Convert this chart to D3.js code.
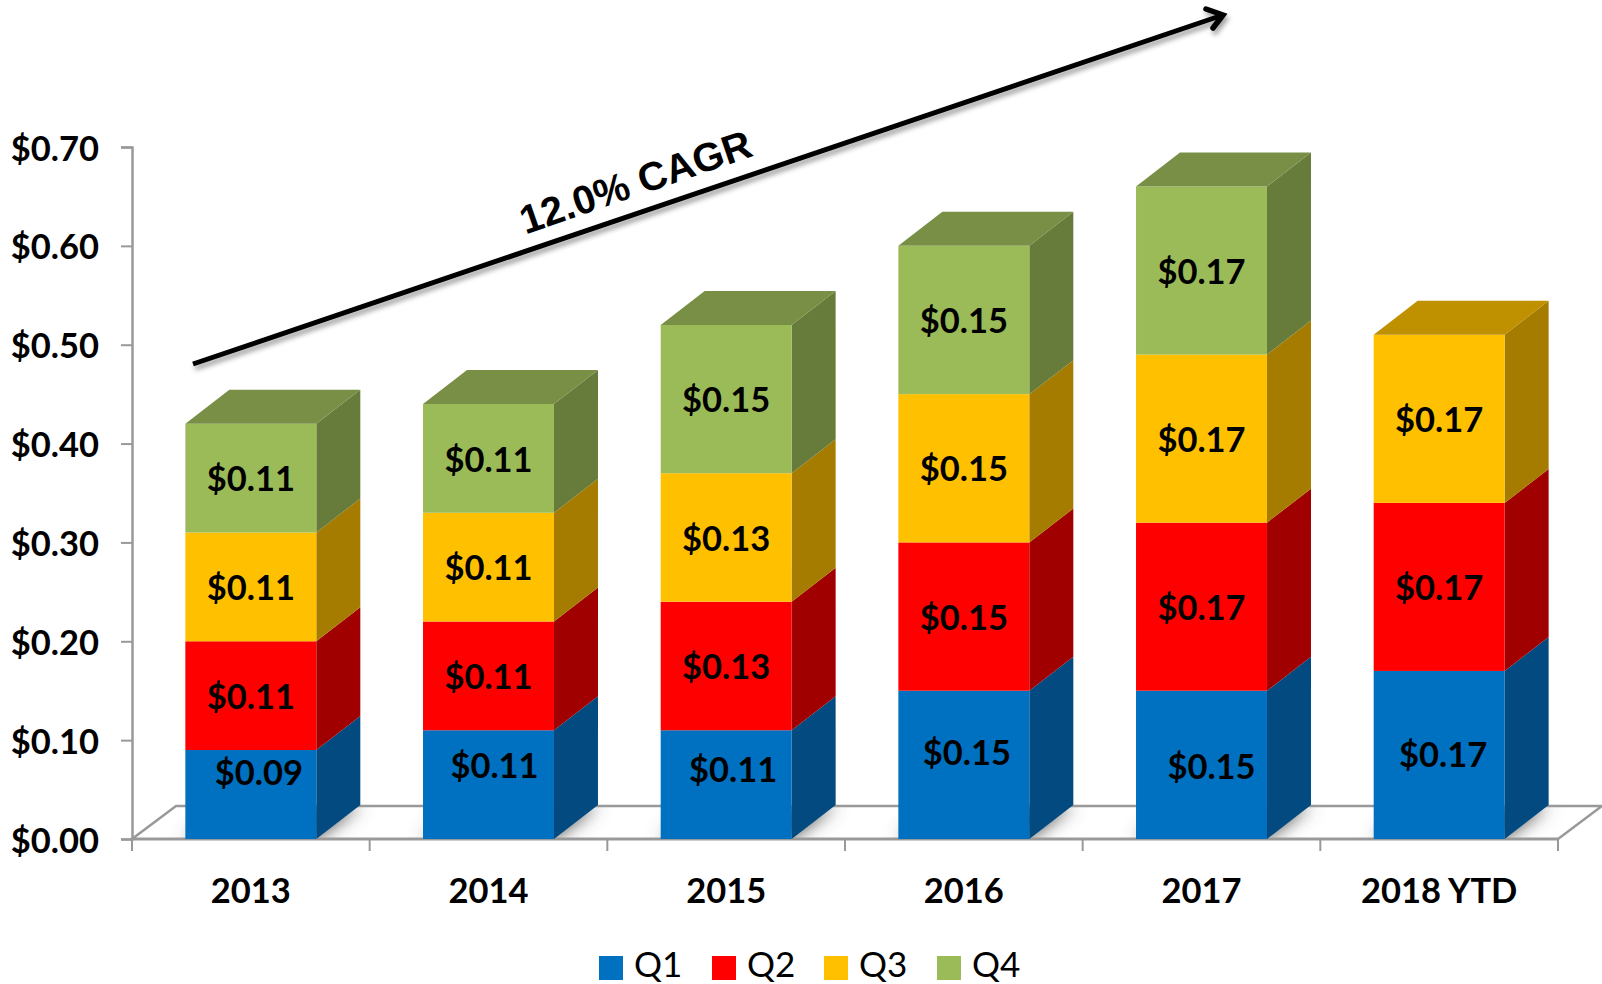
<!DOCTYPE html>
<html>
<head>
<meta charset="utf-8">
<script src="https://cdn.jsdelivr.net/npm/d3@7/dist/d3.min.js"></script>
<style>
html,body{margin:0;padding:0;background:#fff;overflow:hidden}
svg{display:block}
text{fill:#000}
</style>
</head>
<body>
<svg id="c" width="1602" height="984"></svg>
<script>
const categories = ["2013","2014","2015","2016","2017","2018 YTD"];
const seriesNames = ["Q1","Q2","Q3","Q4"];
const q1 = [0.09,0.11,0.11,0.15,0.15,0.17];
const q2 = [0.11,0.11,0.13,0.15,0.17,0.17];
const q3 = [0.11,0.11,0.13,0.15,0.17,0.17];
const q4 = [0.11,0.11,0.15,0.15,0.17,null];
const yTicks = [0,0.1,0.2,0.3,0.4,0.5,0.6,0.7];
const cagrLabel = "12.0% CAGR";

const colors = {Q1:"#0070C0",Q2:"#FF0000",Q3:"#FFC000",Q4:"#9BBB59"};
const sideColors = {Q1:"#024A7F",Q2:"#A00000",Q3:"#A67C00",Q4:"#677C3A"};
const topColors = {Q1:"#02558F",Q2:"#BF0000",Q3:"#BF9000",Q4:"#788F45"};
// Manual nudges of the Q1 data labels, as placed in the original
const q1LabelDx = [8,6,7,3,10,4];
const q1LabelDy = [-23,-20,-16,-13,1,-1];

const depthX = 44, depthY = -34;
const axisGray = "#999999";
const labelFont = "Lato, 'Open Sans', sans-serif";
const labelSize = 34.5;

const svg = d3.select("#c");
const defs = svg.append("defs");
const x = d3.scaleBand().domain(categories).range([132,1558]).paddingInner(0.449).paddingOuter(0.2245);
const y = d3.scaleLinear().domain([0,0.7]).range([839,147]);

const rows = categories.map((c,i)=>({cat:c,Q1:q1[i],Q2:q2[i],Q3:q3[i],Q4:q4[i]||0}));
const stacked = d3.stack().keys(seriesNames)(rows);

const poly = pts => d3.line()(pts)+"Z";

// blur + arrow shadow
defs.append("filter").attr("id","blur").attr("x","-40%").attr("y","-100%").attr("width","180%").attr("height","300%")
  .append("feGaussianBlur").attr("stdDeviation",9);
const ds = defs.append("filter").attr("id","arrowShadow").attr("x","-5%").attr("y","-10%").attr("width","110%").attr("height","125%");
ds.append("feDropShadow").attr("dx",2).attr("dy",4).attr("stdDeviation",2.5).attr("flood-color","#000").attr("flood-opacity",0.38);

// floor
const y0 = y(0), x0 = x.range()[0], x1 = x.range()[1];
const floorPts = [[x0,y0],[x1,y0],[x1+depthX,y0+depthY+1],[x0+depthX,y0+depthY+1]];
defs.append("clipPath").attr("id","floorClip").append("path").attr("d",poly(floorPts));
const floor = svg.append("g");
floor.append("path").attr("d",poly(floorPts)).attr("fill","#fff");
floor.append("g").attr("clip-path","url(#floorClip)").selectAll("path").data(categories).join("path")
  .attr("d",c=>{const l=x(c),r=l+x.bandwidth();return poly([[l,y0],[r,y0],[r+depthX,y0+depthY],[l+depthX,y0+depthY]]);})
  .attr("fill","#555").attr("filter","url(#blur)");
floor.append("path").attr("d",d3.line()([[x0,y0],[x0+depthX,y0+depthY+1],[x1+depthX,y0+depthY+1],[x1,y0]]))
  .attr("fill","none").attr("stroke",axisGray).attr("stroke-width",2.5);

// y axis
const yAxis = svg.append("g").attr("transform",`translate(${x0},0)`)
  .call(d3.axisLeft(y).tickValues(yTicks).tickSize(11).tickPadding(22).tickFormat(d3.format("$.2f")));
yAxis.select(".domain").attr("stroke",axisGray).attr("stroke-width",2.5);
yAxis.selectAll(".tick line").attr("stroke",axisGray).attr("stroke-width",2);
yAxis.selectAll(".tick text").attr("font-family",labelFont).attr("font-weight",700).attr("font-size",labelSize).attr("fill","#000").attr("dy","0.38em");

// x axis
const bounds = d3.range(categories.length+1).map(i=>x0+(x1-x0)*i/categories.length);
const xAxis = svg.append("g");
xAxis.append("line").attr("x1",x0).attr("x2",x1).attr("y1",y0).attr("y2",y0).attr("stroke",axisGray).attr("stroke-width",3);
xAxis.selectAll("line.t").data(bounds).join("line").attr("class","t")
  .attr("x1",d=>d).attr("x2",d=>d).attr("y1",y0).attr("y2",y0+12).attr("stroke",axisGray).attr("stroke-width",2);
xAxis.selectAll("text").data(categories).join("text")
  .attr("x",c=>x(c)+x.bandwidth()/2).attr("y",903).attr("text-anchor","middle")
  .attr("font-family",labelFont).attr("font-weight",700).attr("font-size",labelSize).text(c=>c);

// bars
const bars = svg.append("g");
stacked.forEach(s=>{
  const key = s.key;
  const g = bars.append("g").attr("class","series-"+key);
  const seg = s.map((d,i)=>({l:x(categories[i]),r:x(categories[i])+x.bandwidth(),t:y(d[1]),b:y(d[0]),v:d[1]-d[0]})).filter(d=>d.v>0);
  g.selectAll("path.side").data(seg).join("path").attr("class","side")
    .attr("d",d=>poly([[d.r,d.b],[d.r+depthX,d.b+depthY],[d.r+depthX,d.t+depthY],[d.r,d.t]]))
    .attr("fill",sideColors[key]);
  g.selectAll("rect").data(seg).join("rect")
    .attr("x",d=>d.l).attr("y",d=>d.t).attr("width",d=>d.r-d.l).attr("height",d=>d.b-d.t)
    .attr("fill",colors[key]);
});
// top faces: one per column, coloured by the highest series present
categories.forEach((c,i)=>{
  const top = [...stacked].reverse().find(s=>s[i][1]-s[i][0]>0);
  const l=x(c), r=l+x.bandwidth(), t=y(top[i][1]);
  bars.append("path").attr("d",poly([[l,t],[r,t],[r+depthX,t+depthY],[l+depthX,t+depthY]])).attr("fill",topColors[top.key]);
});

// data labels
const fmt = d3.format("$.2f");
const labels = svg.append("g");
stacked.forEach(s=>{
  s.forEach((d,i)=>{
    const v = d[1]-d[0];
    if(!(v>0)) return;
    const q = s.key==="Q1";
    labels.append("text")
      .attr("x",x(categories[i])+x.bandwidth()/2+(q?q1LabelDx[i]:0))
      .attr("y",(y(d[0])+y(d[1]))/2+(q?q1LabelDy[i]:0))
      .attr("dy","0.38em").attr("text-anchor","middle")
      .attr("font-family",labelFont).attr("font-weight",700).attr("font-size",labelSize)
      .text(fmt(v));
  });
});

// CAGR arrow
const arrowFrom=[193,364], arrowTo=[1223,15];
const arrow = svg.append("g").attr("filter","url(#arrowShadow)").attr("fill","none").attr("stroke","#000");
arrow.append("path").attr("d",d3.line()([arrowFrom,arrowTo])).attr("stroke-width",5);
arrow.append("path").attr("d",d3.line()([[1206,9],arrowTo,[1213,28]])).attr("stroke-width",5.5).attr("stroke-linecap","round").attr("stroke-linejoin","miter");

svg.append("text").attr("transform","translate(640,195) rotate(-19)")
  .attr("text-anchor","middle").attr("font-family","'Liberation Sans', Arial, sans-serif").attr("font-weight",700).attr("font-size",40)
  .text(cagrLabel);

// legend
const legendX = [599,712,824,937];
const legend = svg.append("g").selectAll("g").data(seriesNames).join("g").attr("transform",(d,i)=>`translate(${legendX[i]},956)`);
legend.append("rect").attr("width",24).attr("height",24).attr("fill",d=>colors[d]);
legend.append("text").attr("x",35).attr("y",21).attr("font-family",labelFont).attr("font-size",35).text(d=>d);
</script>
</body>
</html>
